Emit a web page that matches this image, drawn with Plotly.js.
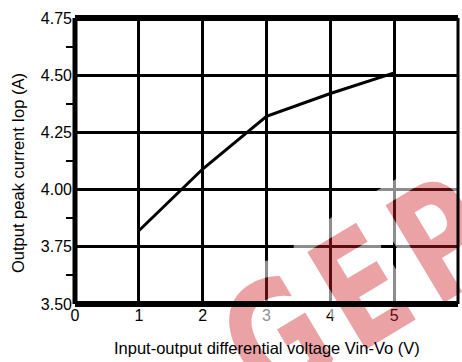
<!DOCTYPE html>
<html><head><meta charset="utf-8">
<script src="https://cdn.plot.ly/plotly-3.0.1.min.js"></script>
<style>html,body{margin:0;padding:0;background:#fff}#c{width:462px;height:362px}</style>
</head><body><div id="c"></div>
<script>
const voltage = [1, 2, 3, 4, 5];
const peakCurrent = [3.82, 4.09, 4.32, 4.42, 4.51];
const xTicks = [0, 1, 2, 3, 4, 5, 6];
const yTicks = [3.5, 3.75, 4.0, 4.25, 4.5, 4.75];
const yTickText = ['3.50', '3.75', '4.00', '4.25', '4.50', '4.75'];
const yMinorTicks = [3.625, 3.875, 4.125, 4.375, 4.625];
const xTitle = 'Input-output differential voltage Vin-Vo (V)';
const yTitle = 'Output peak current Iop (A)';
const watermark = 'GEP';

const W = 462, H = 362, M = {l: 75, r: 4, t: 18, b: 58};
const PW = W - M.l - M.r, PH = H - M.t - M.b;

const tickFont = {family: 'Liberation Sans, Arial, sans-serif', size: 16, color: '#000'};
const titleFont = {family: 'Liberation Sans, Arial, sans-serif', size: 16.5, color: '#000'};

// decorative watermark logo (drawn as an image over the plot)
const tf = 'translate(207,312) rotate(-31) scale(0.72,1)';
const txt = (attrs) => '<text x="0" y="114" font-family="DejaVu Sans" font-weight="bold" font-size="156" letter-spacing="20" ' + attrs + '>' + watermark + '</text>';
const svg = '<svg xmlns="http://www.w3.org/2000/svg" width="' + W + '" height="' + H + '" viewBox="0 0 ' + W + ' ' + H + '">' +
  '<mask id="m" maskUnits="userSpaceOnUse" x="0" y="0" width="' + W + '" height="' + H + '">' +
  '<rect width="' + W + '" height="' + H + '" fill="white"/>' +
  '<g transform="' + tf + '">' + txt('fill="black"') + '</g></mask>' +
  '<g mask="url(#m)" opacity="0.55"><g transform="' + tf + '">' +
  txt('fill="white" stroke="white" stroke-width="34" stroke-linejoin="round"') + '</g></g>' +
  '<g transform="' + tf + '">' + txt('fill="rgb(205,34,40)" fill-opacity="0.42"') + '</g></svg>';

const trace = {
  x: voltage, y: peakCurrent, type: 'scatter', mode: 'lines',
  line: {color: '#000', width: 3}, hoverinfo: 'skip'
};
const minorTrace = {x: [], y: [], yaxis: 'y2', type: 'scatter', hoverinfo: 'skip'};

const layout = {
  width: W, height: H,
  margin: M,
  paper_bgcolor: '#fff', plot_bgcolor: '#fff',
  showlegend: false,
  font: tickFont,
  xaxis: {
    range: [0, 6], tickvals: xTicks, ticktext: xTicks.map(String),
    showgrid: true, gridcolor: '#000', gridwidth: 3,
    zeroline: false, showline: false,
    ticks: '', tickfont: tickFont, ticklabelstandoff: 0
  },
  yaxis: {
    range: [3.5, 4.75], tickvals: yTicks, ticktext: yTickText,
    showgrid: true, gridcolor: '#000', gridwidth: 3,
    zeroline: false, showline: false,
    ticks: '', tickfont: tickFont, ticklabelstandoff: 2
  },
  yaxis2: {
    range: [3.5, 4.75], overlaying: 'y', side: 'left', tickvals: yMinorTicks,
    showticklabels: false, showgrid: false, zeroline: false, showline: false,
    ticks: 'outside', ticklen: 8, tickwidth: 2, tickcolor: '#000'
  },
  shapes: [
    {type: 'line', xref: 'paper', yref: 'paper', x0: 0, x1: 1, y0: 1, y1: 1, line: {color: '#000', width: 6}},
    {type: 'line', xref: 'paper', yref: 'paper', x0: 0, x1: 1, y0: 0, y1: 0, line: {color: '#000', width: 6}},
    {type: 'line', xref: 'paper', yref: 'paper', x0: 0, x1: 0, y0: 0, y1: 1, line: {color: '#000', width: 5}},
    {type: 'line', xref: 'paper', yref: 'paper', x0: 1, x1: 1, y0: 0, y1: 1, line: {color: '#000', width: 3}}
  ],
  images: [{
    source: 'data:image/svg+xml;charset=utf-8,' + encodeURIComponent(svg),
    xref: 'paper', yref: 'paper', x: -M.l / PW, y: 1 + M.t / PH,
    sizex: W / PW, sizey: H / PH, xanchor: 'left', yanchor: 'top',
    sizing: 'stretch', layer: 'above'
  }],
  annotations: [
    {text: xTitle, xref: 'paper', yref: 'paper', x: 0.5, y: (PH - (348 - M.t)) / PH, showarrow: false,
     xanchor: 'center', yanchor: 'middle', font: titleFont},
    {text: yTitle, xref: 'paper', yref: 'paper', x: (18 - M.l) / PW, y: (PH - (173 - M.t)) / PH, showarrow: false,
     textangle: -90, xanchor: 'center', yanchor: 'middle', font: titleFont}
  ]
};

Plotly.newPlot('c', [trace, minorTrace], layout, {displayModeBar: false, staticPlot: true});
</script>
</body></html>
